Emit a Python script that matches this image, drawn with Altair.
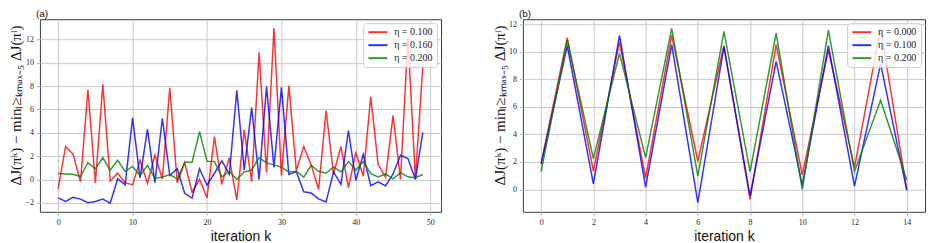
import altair as alt
import pandas as pd

# ---------------- data ----------------
k_a = list(range(50))
red_a = [-0.78, 2.83, 2.17, -0.2, 7.7, -0.33, 8.14, -0.14, 0.53, -0.28,
         -0.47, 1.64, -0.33, 2.08, 0.05, 7.86, -0.3, 1.44, -1.1, 0.0,
         -1.58, 3.67, -0.42, 1.86, -1.75, 4.25, -0.2, 10.9, 0.6, 13.0,
         0.33, 8.05, 0.75, 2.83, 1.25, -0.86, 5.9, 0.47, 2.83, -0.7,
         2.3, 0.28, 7.08, 1.3, 0.2, 5.5, 0.0, 12.2, 0.05, 9.7]
blue_a = [-1.58, -1.89, -1.53, -1.69, -2.0, -1.89, -1.69, -2.03, 0.05, -0.47,
          5.28, 0.14, 4.3, -0.28, 5.25, 0.33, 0.92, -1.19, -1.6, 0.92,
          -0.5, 0.53, 1.6, 0.42, 7.64, 0.8, 6.17, 0.0, 7.97, 1.03,
          7.9, 0.42, 0.67, -1.06, -1.17, -1.67, -1.94, 0.64, -0.42, 4.2,
          -0.08, 2.14, -0.53, -0.2, -0.56, 0.47, 2.08, 1.8, 0.0, 4.03]
green_a = [0.5, 0.47, 0.44, 0.25, 1.44, 0.92, 1.86, 0.8, 1.64, 0.7,
           1.11, 0.33, 1.2, 0.08, 0.2, 0.42, 0.05, 1.47, 1.47, 4.1,
           1.55, 1.53, 0.22, 0.7, 0.0, 0.64, 0.8, 1.86, 1.42, 1.25,
           1.05, 0.64, 0.7, 0.2, 1.2, 0.7, 0.53, 1.08, 0.64, 1.53,
           0.8, 1.53, 0.5, 0.22, 0.47, 0.05, 0.58, 0.22, 0.14, 0.42]

k_b = list(range(15))
red_b = [1.9, 11.04, 1.34, 10.73, 0.83, 11.2, 2.05, 10.45, -0.73, 10.54,
         1.06, 10.14, 1.6, 11.72, 0.0]
blue_b = [1.85, 10.45, 0.4, 11.2, 0.17, 10.54, -0.97, 10.38, -0.47, 9.32,
          0.3, 10.45, 0.24, 9.13, -0.05]
green_b = [1.3, 10.85, 2.24, 9.9, 2.31, 11.72, 0.97, 11.5, 1.3, 11.37,
           0.0, 11.58, 1.3, 6.49, 0.7]

labels_a = ["η = 0.100", "η = 0.160", "η = 0.200"]
labels_b = ["η = 0.000", "η = 0.100", "η = 0.200"]
colors = ["#ff0000", "#0000ff", "#008000"]

xticks_a = [0, 10, 20, 30, 40, 50]
yticks_a = [-2, 0, 2, 4, 6, 8, 10, 12]
xticks_b = [0, 2, 4, 6, 8, 10, 12, 14]
yticks_b = [0, 2, 4, 6, 8, 10, 12]

y_title = "ΔJ(πᵏ) − minₗ≥ₖₘₐₓ₋₅ ΔJ(πˡ)"
x_title = "iteration k"

SERIF = "Liberation Serif"
SANS = "Liberation Sans"


def long_table(ks, series, labels):
    rows = []
    for lab, vals in zip(labels, series):
        for k, v in zip(ks, vals):
            rows.append({"k": k, "v": v, "s": lab})
    return pd.DataFrame(rows)


df_a = long_table(k_a, [red_a, blue_a, green_a], labels_a)
df_b = long_table(k_b, [red_b, blue_b, green_b], labels_b)

PLOT_H = 193


def panel(df, labels, xdom, xticks, ydom, yticks, tag, width):
    legend = alt.Legend(
        title=None, orient="top-right", offset=4,
        fillColor="rgba(255,255,255,0.8)", strokeColor="#cccccc",
        cornerRadius=3, padding=4,
        symbolType="M-1,0H4", symbolSize=58, symbolStrokeWidth=2,
        labelFont=SERIF, labelFontSize=10, labelOffset=17,
        labelColor="#222222", rowPadding=3,
    )
    return alt.Chart(df).mark_line(strokeWidth=1.5, opacity=0.8, clip=True).encode(
        x=alt.X("k:Q",
                scale=alt.Scale(domain=xdom, nice=False, zero=False),
                axis=alt.Axis(values=xticks, format="d", title=x_title,
                              titleFont=SANS, titleFontSize=14,
                              titleFontWeight="normal", titlePadding=3,
                              titleColor="#111111", labelPadding=3)),
        y=alt.Y("v:Q",
                scale=alt.Scale(domain=ydom, nice=False, zero=False),
                axis=alt.Axis(values=yticks, format="d", title=y_title,
                              titleFont=SERIF, titleFontSize=15,
                              titleFontWeight="normal", titlePadding=1,
                              titleColor="#111111", titleY=86, labelPadding=3)),
        color=alt.Color("s:N", scale=alt.Scale(domain=labels, range=colors),
                        legend=legend),
    ).properties(
        width=width, height=PLOT_H,
        title=alt.TitleParams(tag, anchor="start", frame="group",
                              font=SANS, fontSize=10,
                              fontWeight="normal", offset=0, dx=-4,
                              color="#111111"),
    )


left = panel(df_a, labels_a, [-2.45, 51.45], xticks_a, [-2.78, 13.75], yticks_a, "(a)", 402)
right = panel(df_b, labels_b, [-0.7, 14.7], xticks_b, [-1.63, 12.38], yticks_b, "(b)", 403)

chart = alt.hconcat(left, right, spacing=50).resolve_scale(
    color="independent"
).resolve_legend(color="independent").properties(
    padding={"left": 0, "top": 0, "right": 0, "bottom": 0}
).configure_axis(
    grid=True, gridColor="#c8c8c8", gridWidth=1,
    tickColor="#b0b0b0", tickSize=3.5, domain=False,
    labelFont=SERIF, labelFontSize=8, labelColor="#222222",
).configure_view(
    stroke="#3a3a3a", strokeWidth=1
)

chart.save("out.html", embed_options={"renderer": "svg", "actions": False})
